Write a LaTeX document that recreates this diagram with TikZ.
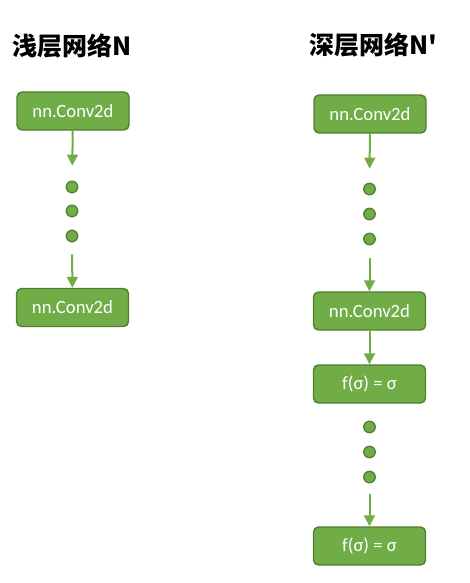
\documentclass[tikz,border=0pt]{standalone}
\usepackage{fontspec}
\setmainfont{Carlito}
\newfontfamily\cjk{Noto Sans CJK SC}
\usetikzlibrary{arrows.meta}

\definecolor{boxgreen}{HTML}{70AD47}
\definecolor{edgegreen}{HTML}{507E32}

\tikzset{
    layer/.style={draw=edgegreen, fill=boxgreen, line width=1.4pt, rounded corners=5pt,
        minimum width=112pt, minimum height=38pt, text=white,
        font=\fontsize{18.7}{20}\selectfont},
    dot/.style={circle, draw=edgegreen, fill=boxgreen, line width=1.3pt,
        minimum size=11.5pt, inner sep=0pt},
    arr/.style={boxgreen, line width=2pt, -{Triangle[width=11pt,length=11pt]}},
    title/.style={anchor=west, font=\cjk\bfseries\fontsize{25}{27}\selectfont}
}

\begin{document}
\begin{tikzpicture}[x=1pt,y=-1pt]
    \useasboundingbox (0,0) rectangle (470,583);

    % shallow net
    \node[title] (tshallow) at (9,46) {浅层网络N};
    \node[layer] (s1) at (73,111) {nn.Conv2d};
    \foreach \y [count=\i] in {187,211,236}
        \node[dot] (sd\i) at (72,\y) {};
    \node[layer] (s2) at (72.5,307.5) {nn.Conv2d};
    \draw[arr, shorten >=15pt] (s1) -- (sd1);
    \draw[arr, shorten <=12pt] (sd3) -- (s2);

    % deep net
    \node[title] (tdeep) at (306,45) {深层网络N'};
    \node[layer] (d1) at (370,114) {nn.Conv2d};
    \foreach \y [count=\i] in {189,214,239}
        \node[dot] (dd\i) at (369.5,\y) {};
    \node[layer] (d2) at (369.5,311) {nn.Conv2d};
    \node[layer] (d3) at (369.5,384) {f(σ) = σ};
    \foreach \y [count=\i] in {427,452,477}
        \node[dot] (de\i) at (369.5,\y) {};
    \node[layer] (d4) at (369.5,546) {f(σ) = σ};
    \draw[arr, shorten >=14pt] (d1) -- (dd1);
    \draw[arr, shorten <=13pt] (dd3) -- (d2);
    \draw[arr] (d2) -- (d3);
    \draw[arr, shorten <=11pt] (de3) -- (d4);
\end{tikzpicture}
\end{document}
